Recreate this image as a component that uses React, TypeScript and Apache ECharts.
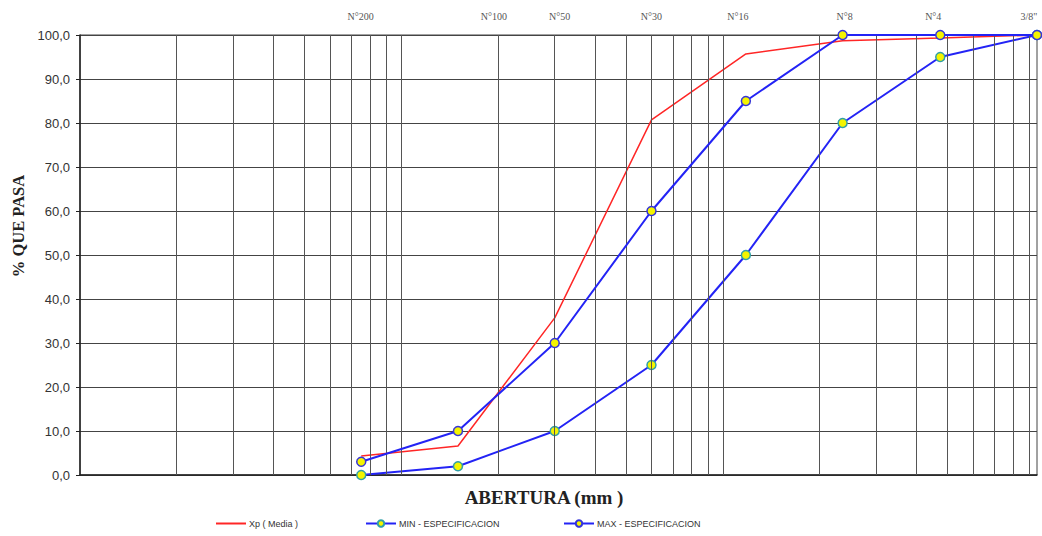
import React, { useEffect, useRef } from "react";
import * as echarts from "echarts";

const sieveLabels = ["N°200", "N°100", "N°50", "N°30", "N°16", "N°8", "N°4", '3/8"'];
const sieveSizes = [0.075, 0.15, 0.3, 0.6, 1.18, 2.36, 4.75, 9.5];
const xpMedia = [4.3, 6.6, 35.7, 80.7, 95.7, 98.7, 99.3, 100];
const minSpec = [0, 2, 10, 25, 50, 80, 95, 100];
const maxSpec = [3, 10, 30, 60, 85, 100, 100, 100];
const logGridValues = [
  0.02, 0.03, 0.04, 0.05, 0.06, 0.07, 0.08, 0.09,
  0.1, 0.2, 0.3, 0.4, 0.5, 0.6, 0.7, 0.8, 0.9,
  1, 2, 3, 4, 5, 6, 7, 8, 9,
];
// label pixel nudges (style only)
const labelNudge = [9, 36, 5, 0, -8, 2, -7, -8];

const seriesNames = ["Xp ( Media )", "MIN - ESPECIFICACION", "MAX - ESPECIFICACION"];

export default function App() {
  const ref = useRef<HTMLDivElement>(null);
  useEffect(() => {
    if (!ref.current) return;
    const chart = echarts.init(ref.current, undefined, { renderer: "svg" });
    const pairs = (vals: number[]) => sieveSizes.map((s, i) => [s, vals[i]]);
    const legendBase = {
      top: 519,
      padding: 0,
      itemWidth: 30,
      itemHeight: 8,
      textStyle: { fontSize: 9, color: "#333", fontFamily: "Liberation Sans", padding: [0, 0, 0, -2] },
    };
    chart.setOption({
      animation: false,
      backgroundColor: "#fff",
      grid: {
        left: 80,
        right: 5,
        top: 35,
        bottom: 61,
        show: true,
        borderColor: "#444",
        borderWidth: 1,
      },
      legend: [
        { ...legendBase, left: 215, data: [{ name: seriesNames[0], itemStyle: { opacity: 0 } }] },
        { ...legendBase, left: 365, data: [seriesNames[1]] },
        { ...legendBase, left: 563, data: [seriesNames[2]] },
      ],
      graphic: [
        {
          type: "text",
          x: 18,
          y: 226,
          rotation: Math.PI / 2,
          style: {
            text: "% QUE PASA",
            fontFamily: "Liberation Serif",
            fontWeight: "bold",
            fontSize: 16.5,
            fill: "#222",
            textAlign: "center",
            textVerticalAlign: "middle",
          },
        },
        {
          type: "text",
          x: 544,
          y: 497,
          style: {
            text: "ABERTURA (mm )",
            fontFamily: "Liberation Serif",
            fontWeight: "bold",
            fontSize: 19,
            fill: "#222",
            textAlign: "center",
            textVerticalAlign: "middle",
          },
        },
      ],
      xAxis: {
        type: "log",
        logBase: 10,
        min: 0.01,
        max: 9.5,
        axisLine: { show: true, lineStyle: { color: "#222", width: 1.5 } },
        axisTick: { show: false },
        axisLabel: { show: false },
        splitLine: { show: false },
        minorSplitLine: { show: false },
      },
      yAxis: {
        type: "value",
        min: 0,
        max: 100,
        interval: 10,
        axisLine: { show: true, lineStyle: { color: "#222", width: 1.5 } },
        axisTick: { show: true, length: 4, lineStyle: { color: "#222" } },
        axisLabel: {
          margin: 10,
          fontSize: 13,
          color: "#333",
          fontFamily: "Liberation Sans",
          formatter: (v: number) => v.toFixed(1).replace(".", ","),
        },
        splitLine: { show: true, lineStyle: { color: "#444", width: 1 } },
      },
      series: [
        {
          name: "grid",
          type: "line",
          data: [],
          z: 1,
          silent: true,
          markLine: {
            silent: true,
            symbol: "none",
            animation: false,
            label: { show: false },
            lineStyle: { color: "#555", width: 1, type: "solid" },
            data: logGridValues.map((v) => ({ xAxis: v })),
          },
        },
        {
          name: "sieves",
          type: "line",
          data: [],
          z: 1,
          silent: true,
          markLine: {
            silent: true,
            symbol: "none",
            animation: false,
            lineStyle: { width: 1, color: "rgba(0,0,0,0)", type: "solid" },
            label: {
              show: true,
              position: "end",
              distance: 14,
              formatter: "{b}",
              fontFamily: "Liberation Serif",
              fontSize: 10,
              color: "#555",
            },
            data: sieveSizes.map((s, i) => ({
              xAxis: s,
              name: sieveLabels[i],
              label: { offset: [labelNudge[i], 0] },
            })),
          },
        },
        {
          name: seriesNames[0],
          type: "line",
          data: pairs(xpMedia),
          symbol: "none",
          z: 3,
          itemStyle: { color: "#ff2626" },
          lineStyle: { color: "#ff2626", width: 1.5 },
        },
        {
          name: seriesNames[1],
          type: "line",
          data: pairs(minSpec),
          symbol: "circle",
          symbolSize: 9,
          z: 4,
          itemStyle: { color: "#f4f400", borderColor: "#2fa0a8", borderWidth: 1.5 },
          lineStyle: { color: "#2323f5", width: 2 },
        },
        {
          name: seriesNames[2],
          type: "line",
          data: pairs(maxSpec),
          symbol: "circle",
          symbolSize: 9,
          z: 5,
          itemStyle: { color: "#f4f400", borderColor: "#3535d8", borderWidth: 1.5 },
          lineStyle: { color: "#2323f5", width: 2 },
        },
      ],
    });
    return () => chart.dispose();
  }, []);
  return (
    <div
      ref={ref}
      style={{ position: "fixed", left: 0, top: 0, width: 1042, height: 536 }}
    />
  );
}
